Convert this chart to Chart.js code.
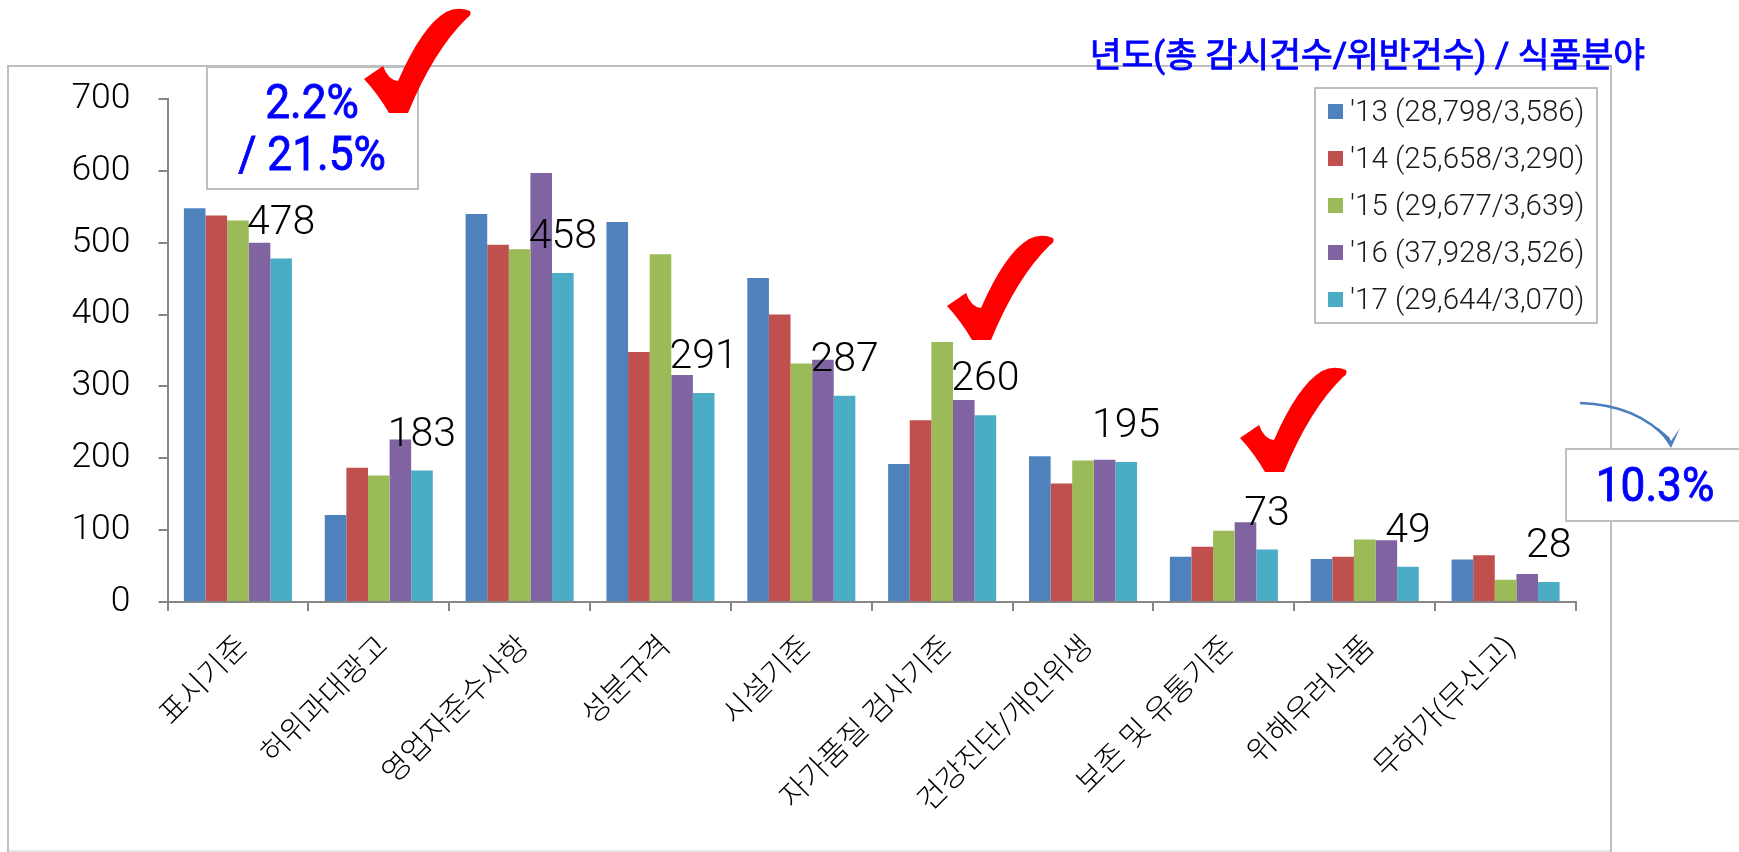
<!DOCTYPE html>
<html>
<head>
<meta charset="utf-8">
<title>식품분야 위반건수</title>
<script src="https://cdn.jsdelivr.net/npm/chart.js@4"></script>
<style>
html, body { margin: 0; padding: 0; background: #fff; overflow: hidden; }
canvas { display: block; }
</style>
</head>
<body>
<canvas id="chart" width="1739" height="852"></canvas>
<script>
const categories = ['표시기준', '허위과대광고', '영업자준수사항', '성분규격', '시설기준', '자가품질 검사기준', '건강진단/개인위생', '보존 및 유통기준', '위해우려식품', '무허가(무신고)'];
const seriesNames = ["'13 (28,798/3,586)", "'14 (25,658/3,290)", "'15 (29,677/3,639)", "'16 (37,928/3,526)", "'17 (29,644/3,070)"];
const colors = ['#4f81bd', '#c0504d', '#9bbb59', '#8064a2', '#4bacc6'];
const y13 = [548, 121, 540, 529, 451, 192, 203, 63, 60, 59];
const y14 = [538, 187, 497, 348, 400, 253, 165, 77, 63, 65];
const y15 = [531, 176, 491, 484, 332, 362, 197, 99, 87, 31];
const y16 = [500, 226, 597, 316, 337, 281, 198, 111, 86, 39];
const y17 = [478, 183, 458, 291, 287, 260, 195, 73, 49, 28];

const FONT = 'Roboto, "Noto Sans CJK KR", sans-serif';
const GREY = '#bfbfbf';
const BLUE = '#0000ff';

function box(ctx, x, y, w, h) {
  ctx.fillStyle = '#fff';
  ctx.strokeStyle = GREY;
  ctx.lineWidth = 2;
  ctx.fillRect(x, y, w, h);
  ctx.strokeRect(x, y, w, h);
}

// blue text, slightly thickened and squeezed like the original callouts
function blueText(ctx, str, x, y, sx) {
  ctx.save();
  ctx.translate(x, y);
  ctx.scale(sx, 1);
  ctx.fillStyle = BLUE;
  ctx.strokeStyle = BLUE;
  ctx.lineWidth = 0.9;
  ctx.fillText(str, 0, 0);
  ctx.strokeText(str, 0, 0);
  ctx.restore();
}

// red tick mark, x/y = top left of its bounding box
function check(ctx, x, y) {
  ctx.save();
  ctx.translate(x, y);
  ctx.fillStyle = '#ff0000';
  ctx.beginPath();
  ctx.moveTo(0, 71);
  ctx.lineTo(19, 58);
  ctx.quadraticCurveTo(24, 72, 34, 73);
  ctx.quadraticCurveTo(58, 18, 82, 4);
  ctx.quadraticCurveTo(94, -2, 106, 3);
  ctx.quadraticCurveTo(108, 7, 103, 10);
  ctx.quadraticCurveTo(70, 42, 44, 105);
  ctx.lineTo(25, 105);
  ctx.quadraticCurveTo(14, 86, 0, 71);
  ctx.fill();
  ctx.restore();
}

const decorBack = {
  id: 'decorBack',
  beforeDraw(chart) {
    const ctx = chart.ctx;
    ctx.save();
    ctx.fillStyle = '#fff';
    ctx.fillRect(0, 0, chart.width, chart.height);
    ctx.strokeStyle = GREY;
    ctx.lineWidth = 2;
    ctx.strokeRect(8, 66, 1603, 800);
    // bottom edge of the frame is cut by the picture, only a pale line is left
    ctx.strokeStyle = '#e6e6e6';
    ctx.beginPath();
    ctx.moveTo(9, 851);
    ctx.lineTo(1610, 851);
    ctx.stroke();
    ctx.restore();
  }
};

const decorFront = {
  id: 'decorFront',
  afterDraw(chart) {
    const ctx = chart.ctx;
    ctx.save();

    // value labels of the last series
    const last = chart.getDatasetMeta(4).data;
    ctx.font = '300 41px ' + FONT;
    ctx.fillStyle = '#000';
    ctx.textAlign = 'center';
    ctx.textBaseline = 'middle';
    last.forEach((bar, i) => ctx.fillText(String(y17[i]), bar.x, bar.y - 35));

    // legend
    box(ctx, 1315, 88, 282, 235);
    ctx.font = '300 29.5px ' + FONT;
    ctx.textAlign = 'left';
    seriesNames.forEach((name, i) => {
      const y = 111.5 + i * 47;
      ctx.fillStyle = colors[i];
      ctx.fillRect(1328, y - 7.5, 15, 15);
      ctx.fillStyle = '#1a1a1a';
      ctx.fillText(name, 1350, y + 2);
    });

    // callouts
    box(ctx, 207, 67, 211, 122);
    box(ctx, 1566, 449, 180, 72);
    ctx.textAlign = 'center';
    ctx.font = '400 48px ' + FONT;
    blueText(ctx, '2.2%', 312, 106, 0.92);
    blueText(ctx, '/ 21.5%', 312, 158, 0.92);
    blueText(ctx, '10.3%', 1655, 489, 0.92);

    // heading
    ctx.textAlign = 'right';
    ctx.font = '400 34.6px ' + FONT;
    blueText(ctx, '년도(총 감시건수/위반건수) / 식품분야', 1645, 58, 1);

    check(ctx, 364, 8);
    check(ctx, 947, 235);
    check(ctx, 1240, 367);

    // arrow to 10.3%
    ctx.strokeStyle = '#4a7ebb';
    ctx.lineWidth = 2.5;
    ctx.beginPath();
    ctx.moveTo(1580, 403);
    ctx.quadraticCurveTo(1638, 405, 1668, 440);
    ctx.stroke();
    ctx.fillStyle = '#4a7ebb';
    ctx.beginPath();
    ctx.moveTo(1680, 428);
    ctx.lineTo(1671, 448);
    ctx.lineTo(1657, 427);
    ctx.lineTo(1669, 437);
    ctx.lineTo(1671, 441);
    ctx.closePath();
    ctx.fill();
    ctx.restore();
  }
};

new Chart(document.getElementById('chart'), {
  type: 'bar',
  data: {
    labels: categories,
    datasets: [y13, y14, y15, y16, y17].map((values, i) => ({
      label: seriesNames[i],
      data: values,
      backgroundColor: colors[i],
      borderWidth: 0,
      categoryPercentage: 0.767,
      barPercentage: 1
    }))
  },
  options: {
    responsive: false,
    animation: false,
    layout: { padding: { top: 99, right: 163, bottom: 0, left: 0 } },
    plugins: { legend: { display: false }, tooltip: { enabled: false }, title: { display: false } },
    scales: {
      x: {
        afterFit(scale) {
          scale.height = 250;
          scale.paddingLeft = 0;
          scale.paddingRight = 0;
        },
        border: { color: '#868686', width: 2 },
        grid: { drawOnChartArea: false, color: '#868686', lineWidth: 2, tickLength: 9 },
        ticks: {
          autoSkip: false,
          maxRotation: 45,
          minRotation: 45,
          padding: 19,
          labelOffset: 6,
          color: '#000',
          font: { family: FONT, size: 30, weight: '300' }
        }
      },
      y: {
        min: 0,
        max: 700,
        afterFit(scale) {
          scale.width = 167.5;
          scale.paddingTop = 0;
          scale.paddingBottom = 0;
        },
        border: { color: '#868686', width: 2 },
        grid: { drawOnChartArea: false, color: '#868686', lineWidth: 2, tickLength: 9 },
        ticks: {
          stepSize: 100,
          padding: 28,
          color: '#000',
          font: { family: FONT, size: 35.5, weight: '300' }
        }
      }
    }
  },
  plugins: [decorBack, decorFront]
});
</script>
</body>
</html>
